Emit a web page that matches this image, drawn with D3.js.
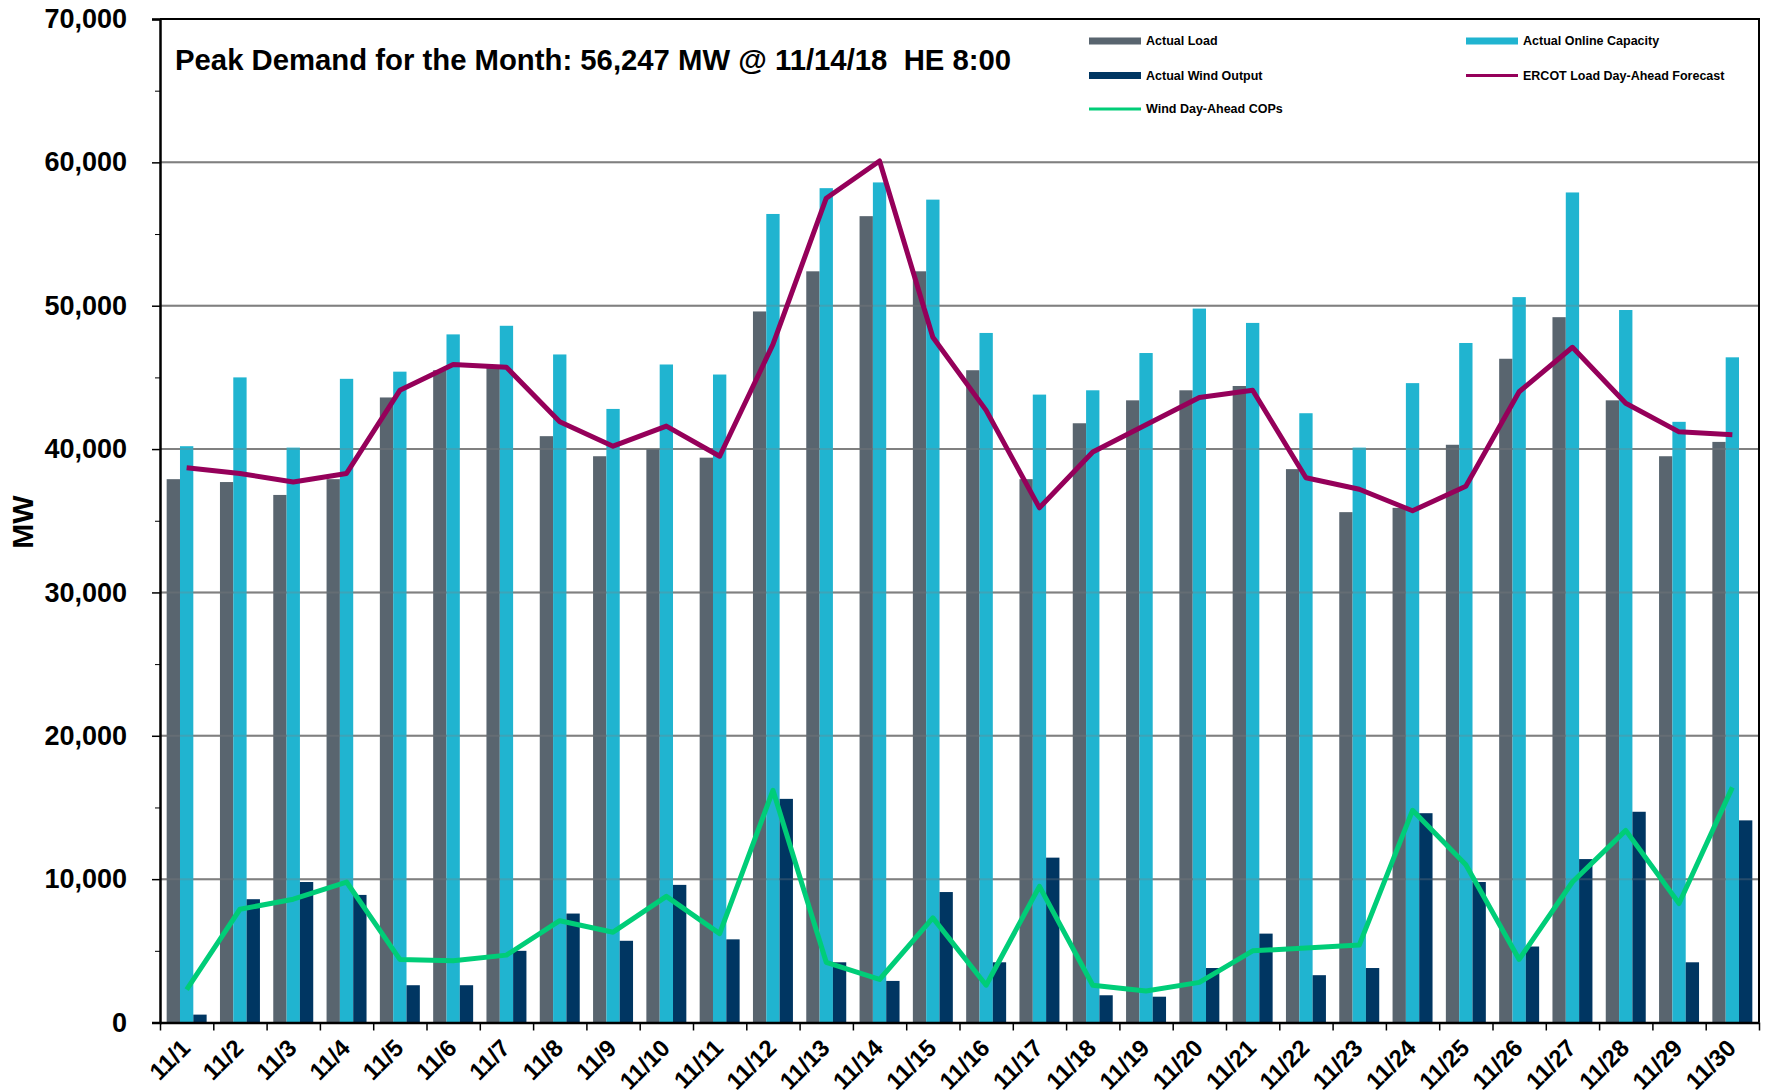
<!DOCTYPE html>
<html lang="en">
<head>
  <meta charset="utf-8" />
  <title>ERCOT November 2018 - Load, Capacity and Wind</title>
  <script type="text/javascript" src="https://cdn.jsdelivr.net/npm/d3@7"></script>
  <style type="text/css">
body { margin: 0; background: white; }
text { font-family: "Liberation Sans", Arial, sans-serif; font-weight: bold; fill: black; }
.axis path, .axis line { stroke: black; }
  </style>
</head>
<body>

<script type="text/javascript">

// data (MW)
var days = ["11/1","11/2","11/3","11/4","11/5","11/6","11/7","11/8","11/9","11/10",
            "11/11","11/12","11/13","11/14","11/15","11/16","11/17","11/18","11/19","11/20",
            "11/21","11/22","11/23","11/24","11/25","11/26","11/27","11/28","11/29","11/30"];
var actualLoad = [37900,37700,36800,37900,43600,45500,45700,40900,39500,40000,
                  39400,49600,52400,56247,52400,45500,37900,41800,43400,44100,
                  44400,38600,35600,35900,40300,46300,49200,43400,39500,40500];
var onlineCapacity = [40200,45000,40100,44900,45400,48000,48600,46600,42800,45900,
                      45200,56400,58200,58600,57400,48100,43800,44100,46700,49800,
                      48800,42500,40100,44600,47400,50600,57900,49700,41900,46400];
var windOutput = [550,8600,9800,8900,2600,2600,5000,7600,5700,9600,
                  5800,15600,4200,2900,9100,4200,11500,1900,1800,3800,
                  6200,3300,3800,14600,9800,5300,11400,14700,4200,14100];
var loadForecast = [38700,38300,37700,38300,44100,45900,45700,41900,40200,41600,
                    39500,47300,57500,60100,47800,42700,35900,39800,41700,43600,
                    44100,38000,37200,35700,37400,44000,47100,43200,41200,41000];
var windCOP = [2300,7900,8600,9800,4400,4300,4700,7100,6300,8800,
               6200,16200,4200,3000,7300,2600,9500,2600,2200,2800,
               5000,5200,5400,14800,11000,4400,9800,13400,8300,16400];
var yTicks = [0,10000,20000,30000,40000,50000,60000,70000];
var title = "Peak Demand for the Month: 56,247 MW @ 11/14/18  HE 8:00";

var w = 1769, h = 1092;
var pad = { left: 160, right: 10, top: 19, bottom: 69 };

var colors = {
  load: "#59656f",
  cap: "#20b4d0",
  wind: "#003662",
  forecast: "#95005a",
  cop: "#00cd78"
};

var svg = d3.select("body")
    .append("svg")
    .attr("width", w)
    .attr("height", h);

svg.append("rect").attr("width", w).attr("height", h).attr("fill", "white");

var xScale = d3.scaleBand()
    .domain(days)
    .range([pad.left, w - pad.right])
    .paddingInner(0)
    .paddingOuter(0);
var subScale = d3.scaleBand()
    .domain(["load", "cap", "wind"])
    .range([0, xScale.bandwidth()])
    .paddingInner(0)
    .paddingOuter(0.5);
var yScale = d3.scaleLinear()
    .domain([0, 70000])
    .range([h - pad.bottom - 0.5, pad.top]);

var gridVals = yTicks.filter(function(d) { return d > 0 && d < 70000; });
function drawGrid(id, opacity) {
  svg.append("g").attr("id", id)
    .selectAll("line")
    .data(gridVals)
    .enter().append("line")
      .attr("x1", pad.left).attr("x2", w - pad.right)
      .attr("y1", function(d) { return yScale(d); })
      .attr("y2", function(d) { return yScale(d); })
      .attr("stroke", "#808080")
      .attr("stroke-opacity", opacity)
      .attr("stroke-width", 2);
}
drawGrid("grid", 1);

// bars
var groups = svg.append("g").attr("id", "bars")
  .selectAll("g")
  .data(days)
  .enter().append("g")
    .attr("transform", function(d) { return "translate(" + xScale(d) + ",0)"; });

var barSeries = [
  { key: "load", vals: actualLoad },
  { key: "cap", vals: onlineCapacity },
  { key: "wind", vals: windOutput }
];
barSeries.forEach(function(s) {
  groups.append("rect")
      .attr("x", subScale(s.key))
      .attr("width", subScale.bandwidth())
      .attr("y", function(d, i) { return yScale(s.vals[i]); })
      .attr("height", function(d, i) { return yScale(0) - yScale(s.vals[i]); })
      .attr("fill", colors[s.key]);
});

// faint gridlines showing through the bars
drawGrid("gridover", 0.3);

// lines
var line = d3.line()
    .x(function(d, i) { return xScale(days[i]) + xScale.bandwidth() / 2; })
    .y(function(d) { return yScale(d); });

svg.append("path")
    .datum(windCOP)
    .attr("d", line)
    .attr("fill", "none")
    .attr("stroke", colors.cop)
    .attr("stroke-width", 5)
    .attr("stroke-linejoin", "round");

svg.append("path")
    .datum(loadForecast)
    .attr("d", line)
    .attr("fill", "none")
    .attr("stroke", colors.forecast)
    .attr("stroke-width", 5)
    .attr("stroke-linejoin", "round");

// plot frame (top and right)
svg.append("path")
    .attr("d", "M" + pad.left + "," + pad.top + "H" + (w - pad.right) + "V" + yScale(0))
    .attr("fill", "none")
    .attr("stroke", "black")
    .attr("stroke-width", 2);

// y axis
var yAxis = d3.axisLeft(yScale)
    .tickValues(yTicks)
    .tickSize(8)
    .tickPadding(25)
    .tickFormat(d3.format(","));
var yG = svg.append("g")
    .attr("class", "axis")
    .attr("transform", "translate(" + pad.left + ",0)")
    .call(yAxis);
yG.select(".domain").attr("stroke-width", 2.5);
yG.selectAll(".tick line").attr("stroke-width", 1.5);
yG.selectAll("text").style("font-size", "27px");

var minorAxis = d3.axisLeft(yScale)
    .tickValues(d3.range(5000, 70000, 10000))
    .tickSize(5)
    .tickFormat("");
var mG = svg.append("g")
    .attr("class", "axis")
    .attr("transform", "translate(" + pad.left + ",0)")
    .call(minorAxis);
mG.select(".domain").remove();

// x axis: ticks between the day groups
var xEdge = d3.scaleLinear()
    .domain([0, days.length])
    .range([pad.left, w - pad.right]);
var xG = svg.append("g")
    .attr("class", "axis")
    .attr("transform", "translate(0," + yScale(0) + ")")
    .call(d3.axisBottom(xEdge)
      .tickValues(d3.range(0, days.length + 1))
      .tickSize(8)
      .tickSizeOuter(0)
      .tickFormat(""));
xG.select(".domain").attr("stroke-width", 2.5);
xG.selectAll(".tick line").attr("stroke-width", 1.5);

svg.append("g").attr("id", "xlabels")
  .selectAll("text")
  .data(days)
  .enter().append("text")
    .attr("transform", function(d) {
      return "translate(" + (xScale(d) + xScale.bandwidth() / 2 + 5) + "," + (yScale(0) + 27) + ") rotate(-45)";
    })
    .attr("text-anchor", "end")
    .style("font-size", "24px")
    .text(function(d) { return d; });

// y title
svg.append("text")
    .attr("transform", "translate(33,522) rotate(-90)")
    .attr("text-anchor", "middle")
    .style("font-size", "30px")
    .text("MW");

// chart note
svg.append("text")
    .attr("x", 175)
    .attr("y", 70)
    .style("font-size", "29.3px")
    .style("white-space", "pre")
    .text(title);

// legend
var legend = [
  { label: "Actual Load", color: colors.load, kind: "bar", x: 1089, y: 41 },
  { label: "Actual Online Capacity", color: colors.cap, kind: "bar", x: 1466, y: 41 },
  { label: "Actual Wind Output", color: colors.wind, kind: "bar", x: 1089, y: 75.5 },
  { label: "ERCOT Load Day-Ahead Forecast", color: colors.forecast, kind: "line", x: 1466, y: 75.5 },
  { label: "Wind Day-Ahead COPs", color: colors.cop, kind: "line", x: 1089, y: 109 }
];
var lg = svg.append("g").attr("id", "legend")
  .selectAll("g")
  .data(legend)
  .enter().append("g")
    .attr("transform", function(d) { return "translate(" + d.x + "," + d.y + ")"; });
lg.append("line")
    .attr("x1", 0).attr("x2", 52)
    .attr("stroke", function(d) { return d.color; })
    .attr("stroke-width", function(d) { return d.kind === "bar" ? 7 : 3; });
lg.append("text")
    .attr("x", 57)
    .attr("dy", "0.35em")
    .style("font-size", "12.5px")
    .text(function(d) { return d.label; });

</script>

</body>
</html>
